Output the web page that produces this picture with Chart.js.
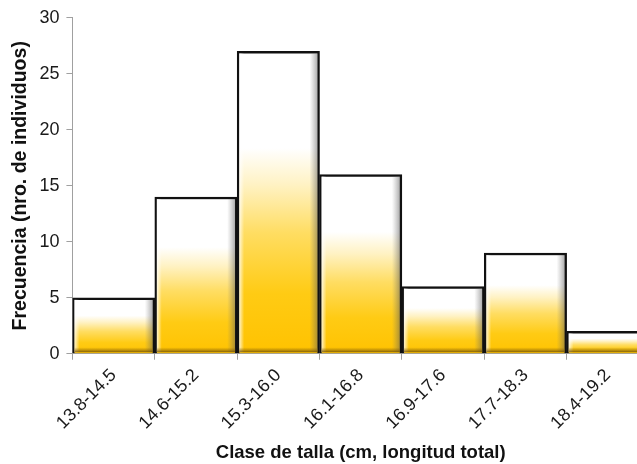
<!DOCTYPE html>
<html>
<head>
<meta charset="utf-8">
<script src="https://cdn.jsdelivr.net/npm/chart.js@4/dist/chart.umd.min.js"></script>
<style>
  html, body { margin: 0; padding: 0; background: #fff; overflow: hidden; }
  #wrap { width: 662px; height: 464px; position: relative; }
</style>
</head>
<body>
<div id="wrap"><canvas id="c"></canvas></div>
<script>
const categories = ['13.8-14.5', '14.6-15.2', '15.3-16.0', '16.1-16.8', '16.9-17.6', '17.7-18.3', '18.4-19.2'];
const frequencies = [5, 14, 27, 16, 6, 9, 2];
const yTicks = [0, 5, 10, 15, 20, 25, 30];

const FONT = "'Liberation Sans', Arial, sans-serif";

function barFill(ctx) {
  const chart = ctx.chart;
  if (!chart.chartArea || !chart.scales.y) return '#FFD21A';
  const y = chart.scales.y;
  const top = y.getPixelForValue(ctx.raw);
  const base = y.getPixelForValue(0);
  const g = chart.ctx.createLinearGradient(0, base, 0, top);
  g.addColorStop(0, '#FFC200');
  g.addColorStop(0.2, '#FFCB14');
  g.addColorStop(0.4, '#FFDD62');
  g.addColorStop(0.56, '#FFF2C4');
  g.addColorStop(0.68, '#FFFFFF');
  g.addColorStop(1, '#FFFFFF');
  return g;
}

const bevel = {
  id: 'bevel',
  afterDatasetsDraw(chart) {
    const c = chart.ctx;
    const meta = chart.getDatasetMeta(0);
    c.save();
    c.beginPath();
    c.rect(chart.chartArea.left, chart.chartArea.top - 20, chart.chartArea.width, chart.chartArea.height + 20);
    c.clip();
    meta.data.forEach((bar) => {
      const p = bar.getProps(['x', 'y', 'base', 'width'], true);
      const left = p.x - p.width / 2 + 2;
      const right = p.x + p.width / 2 - 2;
      const top = p.y + 2;
      const bottom = p.base - 1;
      const gr = c.createLinearGradient(right - 8, 0, right, 0);
      gr.addColorStop(0, 'rgba(120,120,120,0)');
      gr.addColorStop(1, 'rgba(90,90,90,0.5)');
      c.fillStyle = gr;
      c.fillRect(right - 8, top, 8, bottom - top);
      const gl = c.createLinearGradient(left, 0, left + 5, 0);
      gl.addColorStop(0, 'rgba(255,255,255,0.8)');
      gl.addColorStop(1, 'rgba(255,255,255,0)');
      c.fillStyle = gl;
      c.fillRect(left, top, 5, bottom - top);
      const gb = c.createLinearGradient(0, bottom, 0, bottom - 5);
      gb.addColorStop(0, 'rgba(110,80,10,0.85)');
      gb.addColorStop(1, 'rgba(150,110,10,0)');
      c.fillStyle = gb;
      c.fillRect(left, bottom - 5, right - left, 5);
    });
    c.restore();
  }
};

new Chart(document.getElementById('c'), {
  type: 'bar',
  data: {
    labels: categories,
    datasets: [{
      data: frequencies,
      backgroundColor: barFill,
      borderColor: '#111111',
      borderWidth: 2.5,
      borderSkipped: 'bottom',
      categoryPercentage: 1.0,
      barPercentage: 1.0
    }]
  },
  options: {
    responsive: true,
    maintainAspectRatio: false,
    animation: false,
    devicePixelRatio: 1,
    layout: { padding: { top: 3, right: 13, left: 9, bottom: 0 } },
    plugins: { legend: { display: false }, tooltip: { enabled: false } },
    scales: {
      x: {
        offset: true,
        grid: { display: true, drawOnChartArea: false, drawTicks: true, tickLength: 6, color: '#A0A0A0', offset: true },
        border: { display: true, color: '#A0A0A0', width: 1 },
        ticks: {
          color: '#1a1a1a',
          font: { family: FONT, size: 18 },
          maxRotation: 45, minRotation: 45,
          padding: 5
        },
        title: {
          display: true,
          text: 'Clase de talla (cm, longitud total)',
          color: '#111',
          font: { family: FONT, size: 18.5, weight: 'bold' },
          padding: { top: 3, bottom: 0 }
        }
      },
      y: {
        min: 0, max: 30,
        afterBuildTicks(axis) { axis.ticks = yTicks.map(v => ({ value: v })); },
        grid: { display: true, drawOnChartArea: false, drawTicks: true, tickLength: 6, color: '#A0A0A0' },
        border: { display: true, color: '#A0A0A0', width: 1 },
        ticks: {
          color: '#1a1a1a',
          font: { family: FONT, size: 18 },
          padding: 7
        },
        title: {
          display: true,
          text: 'Frecuencia (nro. de individuos)',
          color: '#111',
          font: { family: FONT, size: 19.5, weight: 'bold' },
          padding: { top: 0, bottom: 0 }
        }
      }
    }
  },
  plugins: [bevel]
});
</script>
</body>
</html>
